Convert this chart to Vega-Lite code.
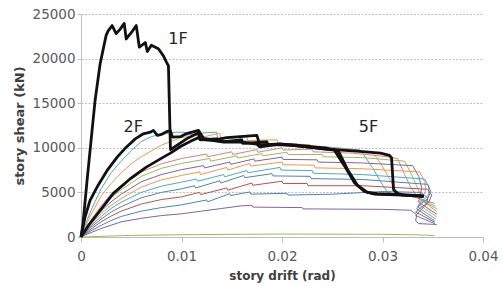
{
"$schema": "https://vega.github.io/schema/vega-lite/v6.json",
"width": 402, "height": 223,
"autosize": {"type": "none"},
"padding": {"left": 81, "top": 14, "right": 20, "bottom": 49},
"background": "white",
"config": {"view": {"stroke": null}, "font": "DejaVu Sans"},
"datasets": {
"c": [
{"s":"3F","i":0,"x":0,"y":0},{"s":"3F","i":1,"x":0.0005,"y":1600},{"s":"3F","i":2,"x":0.001,"y":3000},{"s":"3F","i":3,"x":0.002,"y":5400},{"s":"3F","i":4,"x":0.003,"y":7200},{"s":"3F","i":5,"x":0.004,"y":8500},{"s":"3F","i":6,"x":0.005,"y":9700},{"s":"3F","i":7,"x":0.006,"y":10700},{"s":"3F","i":8,"x":0.007,"y":11250},{"s":"3F","i":9,"x":0.008,"y":11550},{"s":"3F","i":10,"x":0.0095,"y":11750},{"s":"3F","i":11,"x":0.0103,"y":11750},{"s":"3F","i":12,"x":0.0104,"y":11400},{"s":"3F","i":13,"x":0.012,"y":11650},{"s":"3F","i":14,"x":0.0135,"y":11750},{"s":"3F","i":15,"x":0.0136,"y":11000},{"s":"3F","i":16,"x":0.0158,"y":11150},{"s":"3F","i":17,"x":0.0159,"y":10750},{"s":"3F","i":18,"x":0.0185,"y":10850},{"s":"3F","i":19,"x":0.0186,"y":10500},{"s":"3F","i":20,"x":0.0215,"y":10450},{"s":"3F","i":21,"x":0.0216,"y":10200},{"s":"3F","i":22,"x":0.025,"y":10050},{"s":"3F","i":23,"x":0.0278,"y":9750},{"s":"3F","i":24,"x":0.029,"y":7800},{"s":"3F","i":25,"x":0.0298,"y":6200},{"s":"3F","i":26,"x":0.0305,"y":5000},{"s":"3F","i":27,"x":0.0318,"y":4700},{"s":"3F","i":28,"x":0.0333,"y":4450},{"s":"3F","i":29,"x":0.0352,"y":3750},
{"s":"4F","i":0,"x":0,"y":0},{"s":"4F","i":1,"x":0.0005,"y":1300},{"s":"4F","i":2,"x":0.001,"y":2500},{"s":"4F","i":3,"x":0.002,"y":4600},{"s":"4F","i":4,"x":0.003,"y":6000},{"s":"4F","i":5,"x":0.004,"y":7200},{"s":"4F","i":6,"x":0.005,"y":8200},{"s":"4F","i":7,"x":0.006,"y":9000},{"s":"4F","i":8,"x":0.008,"y":10300},{"s":"4F","i":9,"x":0.01,"y":11150},{"s":"4F","i":10,"x":0.0118,"y":11450},{"s":"4F","i":11,"x":0.0119,"y":11150},{"s":"4F","i":12,"x":0.0138,"y":11650},{"s":"4F","i":13,"x":0.0139,"y":11100},{"s":"4F","i":14,"x":0.0165,"y":11250},{"s":"4F","i":15,"x":0.0166,"y":10800},{"s":"4F","i":16,"x":0.0195,"y":10900},{"s":"4F","i":17,"x":0.0196,"y":10500},{"s":"4F","i":18,"x":0.0228,"y":10350},{"s":"4F","i":19,"x":0.0229,"y":10050},{"s":"4F","i":20,"x":0.026,"y":9900},{"s":"4F","i":21,"x":0.029,"y":9500},{"s":"4F","i":22,"x":0.0298,"y":8300},{"s":"4F","i":23,"x":0.0307,"y":6500},{"s":"4F","i":24,"x":0.0314,"y":5000},{"s":"4F","i":25,"x":0.0325,"y":4650},{"s":"4F","i":26,"x":0.0335,"y":4400},{"s":"4F","i":27,"x":0.0353,"y":3450},
{"s":"6F","i":0,"x":0,"y":0},{"s":"6F","i":1,"x":0.0005,"y":1000},{"s":"6F","i":2,"x":0.001,"y":1900},{"s":"6F","i":3,"x":0.002,"y":3500},{"s":"6F","i":4,"x":0.003,"y":4800},{"s":"6F","i":5,"x":0.004,"y":5800},{"s":"6F","i":6,"x":0.006,"y":7300},{"s":"6F","i":7,"x":0.008,"y":8200},{"s":"6F","i":8,"x":0.01,"y":8800},{"s":"6F","i":9,"x":0.0125,"y":9300},{"s":"6F","i":10,"x":0.0126,"y":9000},{"s":"6F","i":11,"x":0.015,"y":9550},{"s":"6F","i":12,"x":0.0151,"y":9250},{"s":"6F","i":13,"x":0.0175,"y":9800},{"s":"6F","i":14,"x":0.0176,"y":9500},{"s":"6F","i":15,"x":0.02,"y":10000},{"s":"6F","i":16,"x":0.0201,"y":9750},{"s":"6F","i":17,"x":0.023,"y":9850},{"s":"6F","i":18,"x":0.0231,"y":9550},{"s":"6F","i":19,"x":0.027,"y":9400},{"s":"6F","i":20,"x":0.0305,"y":9000},{"s":"6F","i":21,"x":0.0315,"y":8800},{"s":"6F","i":22,"x":0.0322,"y":7000},{"s":"6F","i":23,"x":0.0328,"y":5600},{"s":"6F","i":24,"x":0.0334,"y":4600},{"s":"6F","i":25,"x":0.0337,"y":4250},{"s":"6F","i":26,"x":0.0354,"y":3150},
{"s":"7F","i":0,"x":0,"y":0},{"s":"7F","i":1,"x":0.0005,"y":900},{"s":"7F","i":2,"x":0.001,"y":1700},{"s":"7F","i":3,"x":0.002,"y":3200},{"s":"7F","i":4,"x":0.003,"y":4400},{"s":"7F","i":5,"x":0.004,"y":5300},{"s":"7F","i":6,"x":0.006,"y":6800},{"s":"7F","i":7,"x":0.008,"y":7700},{"s":"7F","i":8,"x":0.01,"y":8250},{"s":"7F","i":9,"x":0.0128,"y":8800},{"s":"7F","i":10,"x":0.0129,"y":8500},{"s":"7F","i":11,"x":0.0155,"y":9100},{"s":"7F","i":12,"x":0.0156,"y":8850},{"s":"7F","i":13,"x":0.018,"y":9350},{"s":"7F","i":14,"x":0.0181,"y":9100},{"s":"7F","i":15,"x":0.0205,"y":9500},{"s":"7F","i":16,"x":0.0206,"y":9250},{"s":"7F","i":17,"x":0.024,"y":9250},{"s":"7F","i":18,"x":0.0241,"y":9000},{"s":"7F","i":19,"x":0.028,"y":8900},{"s":"7F","i":20,"x":0.0322,"y":8500},{"s":"7F","i":21,"x":0.0329,"y":7000},{"s":"7F","i":22,"x":0.0334,"y":5700},{"s":"7F","i":23,"x":0.0338,"y":4700},{"s":"7F","i":24,"x":0.0339,"y":4100},{"s":"7F","i":25,"x":0.0354,"y":2850},
{"s":"8F","i":0,"x":0,"y":0},{"s":"8F","i":1,"x":0.0005,"y":800},{"s":"8F","i":2,"x":0.001,"y":1550},{"s":"8F","i":3,"x":0.002,"y":2900},{"s":"8F","i":4,"x":0.003,"y":3950},{"s":"8F","i":5,"x":0.004,"y":4800},{"s":"8F","i":6,"x":0.006,"y":6200},{"s":"8F","i":7,"x":0.008,"y":7000},{"s":"8F","i":8,"x":0.01,"y":7550},{"s":"8F","i":9,"x":0.0122,"y":8000},{"s":"8F","i":10,"x":0.0123,"y":7750},{"s":"8F","i":11,"x":0.0148,"y":8400},{"s":"8F","i":12,"x":0.0149,"y":8150},{"s":"8F","i":13,"x":0.0172,"y":8750},{"s":"8F","i":14,"x":0.0173,"y":8500},{"s":"8F","i":15,"x":0.02,"y":8950},{"s":"8F","i":16,"x":0.0201,"y":8700},{"s":"8F","i":17,"x":0.0235,"y":8650},{"s":"8F","i":18,"x":0.0236,"y":8400},{"s":"8F","i":19,"x":0.028,"y":8300},{"s":"8F","i":20,"x":0.033,"y":8000},{"s":"8F","i":21,"x":0.0336,"y":6800},{"s":"8F","i":22,"x":0.0339,"y":5500},{"s":"8F","i":23,"x":0.0337,"y":4500},{"s":"8F","i":24,"x":0.0336,"y":3900},{"s":"8F","i":25,"x":0.0354,"y":2550},
{"s":"9F","i":0,"x":0,"y":0},{"s":"9F","i":1,"x":0.0005,"y":720},{"s":"9F","i":2,"x":0.001,"y":1400},{"s":"9F","i":3,"x":0.002,"y":2600},{"s":"9F","i":4,"x":0.003,"y":3550},{"s":"9F","i":5,"x":0.004,"y":4300},{"s":"9F","i":6,"x":0.006,"y":5600},{"s":"9F","i":7,"x":0.008,"y":6400},{"s":"9F","i":8,"x":0.01,"y":6900},{"s":"9F","i":9,"x":0.0118,"y":7300},{"s":"9F","i":10,"x":0.0119,"y":7000},{"s":"9F","i":11,"x":0.0145,"y":7800},{"s":"9F","i":12,"x":0.0146,"y":7500},{"s":"9F","i":13,"x":0.0168,"y":8250},{"s":"9F","i":14,"x":0.0169,"y":7950},{"s":"9F","i":15,"x":0.02,"y":8400},{"s":"9F","i":16,"x":0.0201,"y":8100},{"s":"9F","i":17,"x":0.0232,"y":8050},{"s":"9F","i":18,"x":0.0233,"y":7750},{"s":"9F","i":19,"x":0.028,"y":7650},{"s":"9F","i":20,"x":0.0337,"y":7300},{"s":"9F","i":21,"x":0.0342,"y":6200},{"s":"9F","i":22,"x":0.0343,"y":5200},{"s":"9F","i":23,"x":0.0339,"y":4300},{"s":"9F","i":24,"x":0.0336,"y":3650},{"s":"9F","i":25,"x":0.0354,"y":2250},
{"s":"10F","i":0,"x":0,"y":0},{"s":"10F","i":1,"x":0.0005,"y":640},{"s":"10F","i":2,"x":0.001,"y":1250},{"s":"10F","i":3,"x":0.002,"y":2300},{"s":"10F","i":4,"x":0.003,"y":3200},{"s":"10F","i":5,"x":0.004,"y":3900},{"s":"10F","i":6,"x":0.006,"y":5000},{"s":"10F","i":7,"x":0.008,"y":5700},{"s":"10F","i":8,"x":0.01,"y":6150},{"s":"10F","i":9,"x":0.0115,"y":6500},{"s":"10F","i":10,"x":0.0116,"y":6250},{"s":"10F","i":11,"x":0.0142,"y":7000},{"s":"10F","i":12,"x":0.0143,"y":6750},{"s":"10F","i":13,"x":0.0165,"y":7450},{"s":"10F","i":14,"x":0.0166,"y":7200},{"s":"10F","i":15,"x":0.0198,"y":7800},{"s":"10F","i":16,"x":0.0199,"y":7500},{"s":"10F","i":17,"x":0.023,"y":7450},{"s":"10F","i":18,"x":0.0231,"y":7150},{"s":"10F","i":19,"x":0.028,"y":7000},{"s":"10F","i":20,"x":0.0342,"y":6500},{"s":"10F","i":21,"x":0.0346,"y":5600},{"s":"10F","i":22,"x":0.0346,"y":4700},{"s":"10F","i":23,"x":0.0339,"y":4000},{"s":"10F","i":24,"x":0.0335,"y":3400},{"s":"10F","i":25,"x":0.0353,"y":2000},
{"s":"11F","i":0,"x":0,"y":0},{"s":"11F","i":1,"x":0.0005,"y":560},{"s":"11F","i":2,"x":0.001,"y":1100},{"s":"11F","i":3,"x":0.002,"y":2000},{"s":"11F","i":4,"x":0.003,"y":2800},{"s":"11F","i":5,"x":0.004,"y":3400},{"s":"11F","i":6,"x":0.006,"y":4400},{"s":"11F","i":7,"x":0.008,"y":5000},{"s":"11F","i":8,"x":0.01,"y":5400},{"s":"11F","i":9,"x":0.0113,"y":5750},{"s":"11F","i":10,"x":0.0114,"y":5500},{"s":"11F","i":11,"x":0.0138,"y":6300},{"s":"11F","i":12,"x":0.0139,"y":6050},{"s":"11F","i":13,"x":0.0162,"y":6900},{"s":"11F","i":14,"x":0.0163,"y":6650},{"s":"11F","i":15,"x":0.019,"y":7100},{"s":"11F","i":16,"x":0.0191,"y":6850},{"s":"11F","i":17,"x":0.0228,"y":6800},{"s":"11F","i":18,"x":0.0229,"y":6550},{"s":"11F","i":19,"x":0.028,"y":6450},{"s":"11F","i":20,"x":0.0345,"y":5900},{"s":"11F","i":21,"x":0.0348,"y":5100},{"s":"11F","i":22,"x":0.0345,"y":4300},{"s":"11F","i":23,"x":0.0338,"y":3700},{"s":"11F","i":24,"x":0.0334,"y":3150},{"s":"11F","i":25,"x":0.0352,"y":1800},
{"s":"12F","i":0,"x":0,"y":0},{"s":"12F","i":1,"x":0.0005,"y":460},{"s":"12F","i":2,"x":0.001,"y":900},{"s":"12F","i":3,"x":0.002,"y":1700},{"s":"12F","i":4,"x":0.003,"y":2350},{"s":"12F","i":5,"x":0.004,"y":2900},{"s":"12F","i":6,"x":0.006,"y":3700},{"s":"12F","i":7,"x":0.008,"y":4200},{"s":"12F","i":8,"x":0.01,"y":4500},{"s":"12F","i":9,"x":0.0118,"y":5000},{"s":"12F","i":10,"x":0.0119,"y":4750},{"s":"12F","i":11,"x":0.0145,"y":5500},{"s":"12F","i":12,"x":0.0146,"y":5250},{"s":"12F","i":13,"x":0.017,"y":6050},{"s":"12F","i":14,"x":0.0171,"y":5800},{"s":"12F","i":15,"x":0.02,"y":6250},{"s":"12F","i":16,"x":0.0201,"y":6000},{"s":"12F","i":17,"x":0.0225,"y":6000},{"s":"12F","i":18,"x":0.0226,"y":5750},{"s":"12F","i":19,"x":0.028,"y":5750},{"s":"12F","i":20,"x":0.0345,"y":5350},{"s":"12F","i":21,"x":0.0349,"y":4700},{"s":"12F","i":22,"x":0.0346,"y":3900},{"s":"12F","i":23,"x":0.0338,"y":3300},{"s":"12F","i":24,"x":0.0333,"y":2800},{"s":"12F","i":25,"x":0.0352,"y":1650},
{"s":"13F","i":0,"x":0,"y":0},{"s":"13F","i":1,"x":0.0005,"y":360},{"s":"13F","i":2,"x":0.001,"y":700},{"s":"13F","i":3,"x":0.002,"y":1300},{"s":"13F","i":4,"x":0.003,"y":1850},{"s":"13F","i":5,"x":0.004,"y":2300},{"s":"13F","i":6,"x":0.006,"y":2900},{"s":"13F","i":7,"x":0.008,"y":3300},{"s":"13F","i":8,"x":0.01,"y":3600},{"s":"13F","i":9,"x":0.0125,"y":4150},{"s":"13F","i":10,"x":0.0126,"y":3950},{"s":"13F","i":11,"x":0.0148,"y":4850},{"s":"13F","i":12,"x":0.0149,"y":4650},{"s":"13F","i":13,"x":0.0168,"y":5050},{"s":"13F","i":14,"x":0.0169,"y":4800},{"s":"13F","i":15,"x":0.0205,"y":4900},{"s":"13F","i":16,"x":0.0206,"y":4700},{"s":"13F","i":17,"x":0.025,"y":4800},{"s":"13F","i":18,"x":0.03,"y":5100},{"s":"13F","i":19,"x":0.0338,"y":5000},{"s":"13F","i":20,"x":0.0345,"y":4400},{"s":"13F","i":21,"x":0.0344,"y":3700},{"s":"13F","i":22,"x":0.0337,"y":2900},{"s":"13F","i":23,"x":0.0333,"y":2400},{"s":"13F","i":24,"x":0.0352,"y":1500},
{"s":"14F","i":0,"x":0,"y":0},{"s":"14F","i":1,"x":0.0005,"y":260},{"s":"14F","i":2,"x":0.001,"y":500},{"s":"14F","i":3,"x":0.002,"y":950},{"s":"14F","i":4,"x":0.004,"y":1700},{"s":"14F","i":5,"x":0.006,"y":2100},{"s":"14F","i":6,"x":0.008,"y":2400},{"s":"14F","i":7,"x":0.01,"y":2600},{"s":"14F","i":8,"x":0.012,"y":2900},{"s":"14F","i":9,"x":0.014,"y":3200},{"s":"14F","i":10,"x":0.016,"y":3500},{"s":"14F","i":11,"x":0.017,"y":3550},{"s":"14F","i":12,"x":0.0171,"y":3350},{"s":"14F","i":13,"x":0.022,"y":3300},{"s":"14F","i":14,"x":0.0221,"y":3150},{"s":"14F","i":15,"x":0.03,"y":3100},{"s":"14F","i":16,"x":0.0328,"y":3000},{"s":"14F","i":17,"x":0.0334,"y":2500},{"s":"14F","i":18,"x":0.0333,"y":1800},{"s":"14F","i":19,"x":0.0336,"y":1500},{"s":"14F","i":20,"x":0.0354,"y":1400},
{"s":"R","i":0,"x":0,"y":0},{"s":"R","i":1,"x":0.005,"y":180},{"s":"R","i":2,"x":0.01,"y":260},{"s":"R","i":3,"x":0.02,"y":330},{"s":"R","i":4,"x":0.03,"y":300},{"s":"R","i":5,"x":0.0333,"y":250},{"s":"R","i":6,"x":0.0345,"y":200},{"s":"R","i":7,"x":0.0352,"y":150}
],
"b": [
{"s":"1F","i":0,"x":0,"y":0},{"s":"1F","i":1,"x":0.0002,"y":1500},{"s":"1F","i":2,"x":0.0006,"y":6300},{"s":"1F","i":3,"x":0.001,"y":10800},{"s":"1F","i":4,"x":0.0014,"y":15300},{"s":"1F","i":5,"x":0.0019,"y":19400},{"s":"1F","i":6,"x":0.0025,"y":22600},{"s":"1F","i":7,"x":0.0027,"y":23100},{"s":"1F","i":8,"x":0.0031,"y":23700},{"s":"1F","i":9,"x":0.0035,"y":22800},{"s":"1F","i":10,"x":0.0039,"y":23300},{"s":"1F","i":11,"x":0.0043,"y":23950},{"s":"1F","i":12,"x":0.0045,"y":22200},{"s":"1F","i":13,"x":0.005,"y":22900},{"s":"1F","i":14,"x":0.0055,"y":23700},{"s":"1F","i":15,"x":0.0058,"y":21300},{"s":"1F","i":16,"x":0.0064,"y":21800},{"s":"1F","i":17,"x":0.0066,"y":20800},{"s":"1F","i":18,"x":0.007,"y":21500},{"s":"1F","i":19,"x":0.0077,"y":21100},{"s":"1F","i":20,"x":0.0082,"y":20300},{"s":"1F","i":21,"x":0.0085,"y":19600},{"s":"1F","i":22,"x":0.0087,"y":19200},{"s":"1F","i":23,"x":0.0089,"y":9800},{"s":"1F","i":24,"x":0.0095,"y":10250},{"s":"1F","i":25,"x":0.0105,"y":11000},{"s":"1F","i":26,"x":0.0117,"y":11700},{"s":"1F","i":27,"x":0.0118,"y":10950},{"s":"1F","i":28,"x":0.0132,"y":10800},{"s":"1F","i":29,"x":0.0142,"y":10650},{"s":"1F","i":30,"x":0.0158,"y":10650},{"s":"1F","i":31,"x":0.0175,"y":10400},{"s":"1F","i":32,"x":0.0178,"y":10100},{"s":"1F","i":33,"x":0.0198,"y":10400},{"s":"1F","i":34,"x":0.0225,"y":10100},{"s":"1F","i":35,"x":0.0252,"y":9750},{"s":"1F","i":36,"x":0.0262,"y":8000},{"s":"1F","i":37,"x":0.0272,"y":6100},{"s":"1F","i":38,"x":0.0282,"y":5100},{"s":"1F","i":39,"x":0.0292,"y":4800},{"s":"1F","i":40,"x":0.032,"y":4700},{"s":"1F","i":41,"x":0.0341,"y":4550},
{"s":"2F","i":0,"x":0,"y":0},{"s":"2F","i":1,"x":0.0004,"y":2240},{"s":"2F","i":2,"x":0.0009,"y":4100},{"s":"2F","i":3,"x":0.0016,"y":5600},{"s":"2F","i":4,"x":0.0026,"y":7460},{"s":"2F","i":5,"x":0.0036,"y":8950},{"s":"2F","i":6,"x":0.0045,"y":10070},{"s":"2F","i":7,"x":0.0054,"y":11000},{"s":"2F","i":8,"x":0.0062,"y":11570},{"s":"2F","i":9,"x":0.0069,"y":11750},{"s":"2F","i":10,"x":0.0072,"y":11950},{"s":"2F","i":11,"x":0.0076,"y":11400},{"s":"2F","i":12,"x":0.008,"y":11500},{"s":"2F","i":13,"x":0.0086,"y":11850},{"s":"2F","i":14,"x":0.0089,"y":11900},{"s":"2F","i":15,"x":0.0091,"y":11200},{"s":"2F","i":16,"x":0.0099,"y":11250},{"s":"2F","i":17,"x":0.0105,"y":11600},{"s":"2F","i":18,"x":0.0117,"y":11950},{"s":"2F","i":19,"x":0.0122,"y":11050},{"s":"2F","i":20,"x":0.0132,"y":10850},{"s":"2F","i":21,"x":0.0145,"y":11150},{"s":"2F","i":22,"x":0.0165,"y":11300},{"s":"2F","i":23,"x":0.0175,"y":11400},{"s":"2F","i":24,"x":0.0178,"y":10300},{"s":"2F","i":25,"x":0.0198,"y":10450},{"s":"2F","i":26,"x":0.0222,"y":10200},{"s":"2F","i":27,"x":0.0245,"y":9950},{"s":"2F","i":28,"x":0.0256,"y":9650},{"s":"2F","i":29,"x":0.0265,"y":7600},{"s":"2F","i":30,"x":0.0275,"y":5800},{"s":"2F","i":31,"x":0.0285,"y":5000},{"s":"2F","i":32,"x":0.0295,"y":4850},{"s":"2F","i":33,"x":0.032,"y":4750},{"s":"2F","i":34,"x":0.0341,"y":4600},
{"s":"5F","i":0,"x":0,"y":0},{"s":"5F","i":1,"x":0.0008,"y":1400},{"s":"5F","i":2,"x":0.00166,"y":2620},{"s":"5F","i":3,"x":0.0032,"y":4860},{"s":"5F","i":4,"x":0.0049,"y":6530},{"s":"5F","i":5,"x":0.0065,"y":7830},{"s":"5F","i":6,"x":0.0082,"y":8950},{"s":"5F","i":7,"x":0.0089,"y":9400},{"s":"5F","i":8,"x":0.0099,"y":10150},{"s":"5F","i":9,"x":0.011,"y":10800},{"s":"5F","i":10,"x":0.0118,"y":11200},{"s":"5F","i":11,"x":0.0119,"y":10900},{"s":"5F","i":12,"x":0.0135,"y":11000},{"s":"5F","i":13,"x":0.0142,"y":10700},{"s":"5F","i":14,"x":0.016,"y":10900},{"s":"5F","i":15,"x":0.0161,"y":10500},{"s":"5F","i":16,"x":0.0185,"y":10650},{"s":"5F","i":17,"x":0.0186,"y":10350},{"s":"5F","i":18,"x":0.021,"y":10300},{"s":"5F","i":19,"x":0.0241,"y":9890},{"s":"5F","i":20,"x":0.0274,"y":9620},{"s":"5F","i":21,"x":0.0298,"y":9400},{"s":"5F","i":22,"x":0.0307,"y":9140},{"s":"5F","i":23,"x":0.0309,"y":8900},{"s":"5F","i":24,"x":0.0311,"y":5300},{"s":"5F","i":25,"x":0.0315,"y":4900},{"s":"5F","i":26,"x":0.032,"y":4700},{"s":"5F","i":27,"x":0.0335,"y":4600},{"s":"5F","i":28,"x":0.0341,"y":4550}
],
"t": [
{"t":"1F","x":0.00965,"y":22200},{"t":"2F","x":0.0052,"y":12300},{"t":"5F","x":0.0286,"y":12300}
]
},
"encoding": {
"x": {"field":"x","type":"quantitative","scale":{"domain":[0,0.04],"nice":false},
"axis":{"values":[0,0.01,0.02,0.03,0.04],"format":"~g","title":"story drift (rad)","grid":false,"domainColor":"#bfbfbf","tickColor":"#bfbfbf","tickSize":5,"labelFontSize":13.5,"labelColor":"#595959","labelPadding":7,"labelFlush":false,"titleFontSize":12,"titleFontWeight":"bold","titleColor":"#404040","titlePadding":8}},
"y": {"field":"y","type":"quantitative","scale":{"domain":[0,25000],"nice":false},
"axis":{"values":[0,5000,10000,15000,20000,25000],"format":"d","title":"story shear (kN)","grid":true,"gridColor":"#bfbfbf","gridDash":[2,1.5],"gridWidth":1,"domainColor":"#bfbfbf","tickColor":"#bfbfbf","tickSize":4,"labelFontSize":13.5,"labelColor":"#595959","labelPadding":2,"titleFontSize":13,"titleFontWeight":"bold","titleColor":"#404040","titlePadding":6}}
},
"layer": [
{"data":{"name":"c"},"mark":{"type":"line","strokeWidth":1},
"encoding":{"color":{"field":"s","type":"nominal","legend":null,
"scale":{"domain":["3F","4F","6F","7F","8F","9F","10F","11F","12F","13F","14F","R"],
"range":["#4BACC6","#F79646","#D9827F","#9BBB59","#8064A2","#F79646","#4BACC6","#4F81BD","#C0504D","#4F81BD","#8064A2","#9BBB59"]}},
"order":{"field":"i","type":"quantitative"}}},
{"data":{"name":"b"},"mark":{"type":"line","strokeWidth":2.8,"color":"#111111","strokeJoin":"round"},
"encoding":{"detail":{"field":"s","type":"nominal"},"order":{"field":"i","type":"quantitative"}}},
{"data":{"name":"t"},"mark":{"type":"text","fontSize":16,"color":"#262626","font":"DejaVu Sans"},
"encoding":{"text":{"field":"t","type":"nominal"}}}
]
}
